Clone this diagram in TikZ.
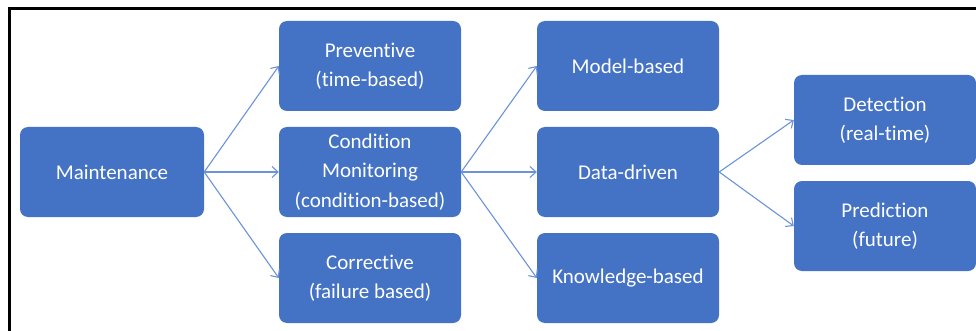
\documentclass[tikz,border=0pt]{standalone}
\usepackage{fontspec}
\setmainfont{Carlito}[Ligatures=NoCommon]
\usetikzlibrary{arrows.meta}
\definecolor{boxblue}{HTML}{4472C4}
\definecolor{arrblue}{HTML}{6A93DB}
\tikzset{
  box/.style={rectangle, rounded corners=8pt, fill=boxblue, draw=none, text=white,
    minimum width=182pt, minimum height=90pt, inner sep=0pt, align=center,
    font=\fontsize{21}{29.5}\selectfont},
  arr/.style={draw=arrblue, line width=1.1pt, -{Straight Barb[length=6pt,width=11pt,line width=1.1pt]}}
}
\begin{document}
\begin{tikzpicture}[x=1pt,y=-1pt]
\useasboundingbox (0,0) rectangle (976,331);
\draw[line width=3pt] (976,9) -- (9,9) -- (9,331);
\node[box, minimum width=184pt] (main) at (112,172) {Maintenance};
\node[box] (prev) at (370,66) {Preventive\\(time-based)};
\node[box] (cond) at (370,172) {Condition\\Monitoring\\(condition-based)};
\node[box] (corr) at (370,278) {Corrective\\(failure based)};
\node[box] (model) at (628,66) {Model-based};
\node[box] (data) at (628,172) {Data-driven};
\node[box] (know) at (628,278) {Knowledge-based};
\node[box] (det) at (885,120) {Detection\\(real-time)};
\node[box] (pred) at (885,226) {Prediction\\(future)};
\draw[arr] (main.east) -- (prev.west);
\draw[arr] (main.east) -- (cond.west);
\draw[arr] (main.east) -- (corr.west);
\draw[arr] (cond.east) -- (model.west);
\draw[arr] (cond.east) -- (data.west);
\draw[arr] (cond.east) -- (know.west);
\draw[arr] (data.east) -- (det.west);
\draw[arr] (data.east) -- (pred.west);
\end{tikzpicture}
\end{document}
